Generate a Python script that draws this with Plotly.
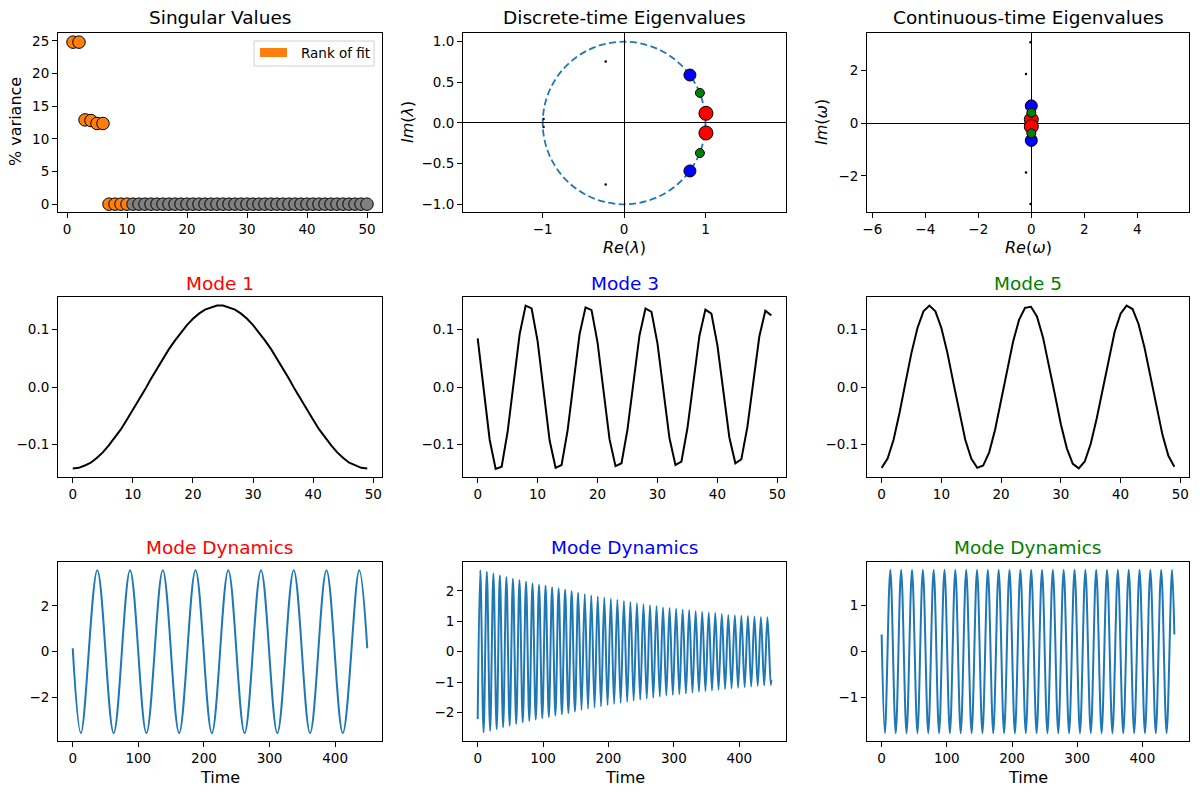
#!/usr/bin/env python3
"""DMD summary plot: singular values, eigenvalues, leading modes and dynamics"""
import plotly.graph_objects as go
from plotly.subplots import make_subplots

W, H = 1200, 798
FONT = "DejaVu Sans"

# ---- singular values, % variance (rank of fit = 10)
sv_index = list(range(1, 51))
sv_percent = [24.8, 24.8, 12.9, 12.8, 12.35, 12.35, 0.0, 0.0, 0.0, 0.0,
              0.0, 0.0, 0.0, 0.0, 0.0, 0.0, 0.0, 0.0, 0.0, 0.0,
              0.0, 0.0, 0.0, 0.0, 0.0, 0.0, 0.0, 0.0, 0.0, 0.0,
              0.0, 0.0, 0.0, 0.0, 0.0, 0.0, 0.0, 0.0, 0.0, 0.0,
              0.0, 0.0, 0.0, 0.0, 0.0, 0.0, 0.0, 0.0, 0.0, 0.0]
fit_rank = 10

# ---- eigenvalues, order: mode 1/2, 3/4, 5/6, then the four small ones
dt_eig_re = [1.006, 1.006, 0.809, 0.809, 0.932, 0.932, -0.226, -0.226, -0.99, -0.99]
dt_eig_im = [0.119, -0.123, 0.59, -0.59, 0.37, -0.37, 0.756, -0.756, 0.05, -0.05]
ct_eig_re = [0.0, 0.0, 0.0, 0.0, 0.0, 0.0, -0.2, -0.2, -0.03, -0.03]
ct_eig_im = [0.13, -0.13, 0.65, -0.66, 0.39, -0.39, 1.86, -1.87, 3.06, -3.07]
eig_colors = ["red", "red", "blue", "blue", "green", "green",
              "black", "black", "black", "black"]
eig_sizes = [14, 14, 12, 12, 9, 9, 2.5, 2.5, 2.5, 2.5]
eig_edges = [1, 1, 1, 1, 1, 1, 0, 0, 0, 0]
unit_radius = 1.0

# ---- spatial modes (50 grid points)
grid = list(range(50))
mode1 = [-0.142, -0.141, -0.137, -0.132, -0.124, -0.114, -0.102, -0.089, -0.074, -0.057,
         -0.040, -0.023, -0.005, 0.014, 0.032, 0.049, 0.066, 0.081, 0.095, 0.108,
         0.119, 0.128, 0.135, 0.139, 0.142, 0.142, 0.139, 0.135, 0.128, 0.119,
         0.108, 0.095, 0.081, 0.066, 0.049, 0.032, 0.014, -0.005, -0.023, -0.040,
         -0.057, -0.074, -0.089, -0.102, -0.114, -0.124, -0.132, -0.137, -0.141, -0.142]
mode3 = [0.085, -0.005, -0.092, -0.143, -0.139, -0.078, 0.010, 0.092, 0.142, 0.137,
         0.080, -0.008, -0.093, -0.141, -0.136, -0.076, 0.010, 0.092, 0.139, 0.134,
         0.078, -0.008, -0.091, -0.138, -0.133, -0.074, 0.010, 0.090, 0.137, 0.131,
         0.076, -0.008, -0.089, -0.136, -0.130, -0.072, 0.010, 0.089, 0.135, 0.128,
         0.073, -0.008, -0.088, -0.133, -0.126, -0.070, 0.010, 0.088, 0.133, 0.125]
mode5 = [-0.141, -0.125, -0.092, -0.045, 0.008, 0.060, 0.103, 0.132, 0.142, 0.132,
         0.103, 0.060, 0.008, -0.045, -0.092, -0.125, -0.141, -0.137, -0.114, -0.074,
         -0.024, 0.029, 0.079, 0.117, 0.138, 0.140, 0.123, 0.087, 0.040, -0.013,
         -0.065, -0.107, -0.134, -0.142, -0.130, -0.099, -0.055, -0.003, 0.050, 0.096,
         0.128, 0.142, 0.136, 0.110, 0.069, 0.019, -0.035, -0.083, -0.120, -0.139]

# ---- mode dynamics, read as start/end values plus each trough and peak
dyn1_start, dyn1_end = (0, 0.15), (449, 0.15)
dyn1_trough_t = [12.5, 62.4, 112.3, 162.2, 212.1, 262.0, 311.9, 361.8, 411.7]
dyn1_trough_v = [-3.56, -3.56, -3.56, -3.56, -3.56, -3.56, -3.56, -3.56, -3.56]
dyn1_peak_t = [37.5, 87.4, 137.3, 187.2, 237.1, 287.0, 336.9, 386.8, 436.7]
dyn1_peak_v = [3.56, 3.56, 3.56, 3.56, 3.56, 3.56, 3.56, 3.56, 3.56]

dyn3_start, dyn3_end = (0, -2.22), (449, -0.92)
dyn3_peak_t = [4.0, 14.0, 24.0, 33.9, 43.9, 53.9, 63.9, 73.9, 83.8, 93.8,
               103.8, 113.8, 123.8, 133.7, 143.7, 153.7, 163.7, 173.7, 183.6, 193.6,
               203.6, 213.6, 223.6, 233.5, 243.5, 253.5, 263.5, 273.5, 283.4, 293.4,
               303.4, 313.4, 323.4, 333.3, 343.3, 353.3, 363.3, 373.3, 383.2, 393.2,
               403.2, 413.2, 423.2, 433.1, 443.1]
dyn3_peak_v = [2.68, 2.63, 2.57, 2.51, 2.46, 2.40, 2.35, 2.30, 2.24, 2.20,
               2.17, 2.12, 2.08, 2.04, 1.99, 1.94, 1.90, 1.86, 1.82, 1.78,
               1.74, 1.71, 1.67, 1.63, 1.59, 1.56, 1.53, 1.50, 1.46, 1.44,
               1.42, 1.39, 1.37, 1.34, 1.31, 1.29, 1.27, 1.24, 1.21, 1.20,
               1.18, 1.17, 1.16, 1.14, 1.13]
dyn3_trough_t = [9.0, 19.0, 29.0, 38.9, 48.9, 58.9, 68.9, 78.9, 88.8, 98.8,
                 108.8, 118.8, 128.8, 138.7, 148.7, 158.7, 168.7, 178.7, 188.6, 198.6,
                 208.6, 218.6, 228.6, 238.5, 248.5, 258.5, 268.5, 278.5, 288.4, 298.4,
                 308.4, 318.4, 328.4, 338.3, 348.3, 358.3, 368.3, 378.3, 388.2, 398.2,
                 408.2, 418.2, 428.2, 438.1, 448.1]
dyn3_trough_v = [-2.65, -2.60, -2.55, -2.49, -2.44, -2.38, -2.33, -2.28, -2.23, -2.19,
                 -2.15, -2.10, -2.06, -2.02, -1.97, -1.92, -1.88, -1.84, -1.80, -1.76,
                 -1.72, -1.69, -1.65, -1.61, -1.58, -1.55, -1.52, -1.48, -1.45, -1.43,
                 -1.40, -1.38, -1.35, -1.32, -1.30, -1.28, -1.25, -1.23, -1.21, -1.19,
                 -1.17, -1.15, -1.13, -1.11, -1.09]

dyn5_start, dyn5_end = (0, 0.37), (449, 0.37)
dyn5_trough_t = [5.0, 21.6, 38.2, 54.9, 71.5, 88.1, 104.7, 121.3, 138.0, 154.6,
                 171.2, 187.8, 204.4, 221.1, 237.7, 254.3, 270.9, 287.5, 304.2, 320.8,
                 337.4, 354.0, 370.6, 387.3, 403.9, 420.5, 437.1]
dyn5_trough_v = [-1.78, -1.78, -1.78, -1.78, -1.78, -1.78, -1.78, -1.78, -1.78, -1.78,
                 -1.78, -1.78, -1.78, -1.78, -1.78, -1.78, -1.78, -1.78, -1.78, -1.78,
                 -1.78, -1.78, -1.78, -1.78, -1.78, -1.78, -1.78]
dyn5_peak_t = [13.3, 29.9, 46.6, 63.2, 79.8, 96.4, 113.0, 129.7, 146.3, 162.9,
               179.5, 196.1, 212.8, 229.4, 246.0, 262.6, 279.2, 295.9, 312.5, 329.1,
               345.7, 362.3, 379.0, 395.6, 412.2, 428.8, 445.4]
dyn5_peak_v = [1.78, 1.78, 1.78, 1.78, 1.78, 1.78, 1.78, 1.78, 1.78, 1.78,
               1.78, 1.78, 1.78, 1.78, 1.78, 1.78, 1.78, 1.78, 1.78, 1.78,
               1.78, 1.78, 1.78, 1.78, 1.78, 1.78, 1.78]


def osc_line(start, end, trough_t, trough_v, peak_t, peak_v):
    """merge start, troughs, peaks and end into one time-ordered line"""
    pts = [start] + list(zip(trough_t, trough_v)) + list(zip(peak_t, peak_v)) + [end]
    pts.sort(key=lambda p: p[0])
    return [p[0] for p in pts], [p[1] for p in pts]


def px2paper(x, y):
    return x / W, 1 - y / H


fig = make_subplots(rows=3, cols=3)

# singular values
sv_colors = ["#ff7f0e" if i <= fit_rank else "gray" for i in sv_index]
fig.add_trace(go.Scatter(x=sv_index, y=sv_percent, mode="markers",
                         marker=dict(size=12.5, color=sv_colors, opacity=1,
                                     line=dict(color="black", width=1)),
                         showlegend=False), row=1, col=1)

# eigenvalues
for col, (re, im) in zip([2, 3], [(dt_eig_re, dt_eig_im), (ct_eig_re, ct_eig_im)]):
    fig.add_trace(go.Scatter(x=re, y=im, mode="markers",
                             marker=dict(size=eig_sizes, color=eig_colors, opacity=1,
                                         line=dict(color="black", width=eig_edges)),
                             showlegend=False), row=1, col=col)

# modes
for col, mode in zip([1, 2, 3], [mode1, mode3, mode5]):
    fig.add_trace(go.Scatter(x=grid, y=mode, mode="lines",
                             line=dict(color="black", width=2), showlegend=False),
                  row=2, col=col)

# dynamics
dyn_lines = [
    osc_line(dyn1_start, dyn1_end, dyn1_trough_t, dyn1_trough_v, dyn1_peak_t, dyn1_peak_v),
    osc_line(dyn3_start, dyn3_end, dyn3_trough_t, dyn3_trough_v, dyn3_peak_t, dyn3_peak_v),
    osc_line(dyn5_start, dyn5_end, dyn5_trough_t, dyn5_trough_v, dyn5_peak_t, dyn5_peak_v),
]
for col, (t, v) in enumerate(dyn_lines, start=1):
    fig.add_trace(go.Scatter(x=t, y=v, mode="lines", line_shape="spline",
                             line=dict(color="#1f77b4", width=2), showlegend=False),
                  row=3, col=col)

# ---- axes
cols_px = [(58, 382), (463, 786), (867, 1189)]
rows_px = [(33, 212), (297, 477), (562, 741)]

base_axis = dict(showgrid=False, zeroline=False, showline=True, linecolor="black",
                 linewidth=1, mirror=True, ticks="outside", ticklen=5, tickwidth=1,
                 tickcolor="black", tickfont=dict(family=FONT, size=13.5, color="black"),
                 automargin=False)

x_setup = [
    dict(range=[-1.5, 52.5], tickvals=[0, 10, 20, 30, 40, 50]),
    dict(range=[-1.98, 1.99], tickvals=[-1, 0, 1], zeroline=True),
    dict(range=[-6.2, 5.95], tickvals=[-6, -4, -2, 0, 2, 4], zeroline=True),
    dict(range=[-2.45, 51.45], tickvals=[0, 10, 20, 30, 40, 50]),
    dict(range=[-2.45, 51.45], tickvals=[0, 10, 20, 30, 40, 50]),
    dict(range=[-2.45, 51.45], tickvals=[0, 10, 20, 30, 40, 50]),
    dict(range=[-22.45, 471.45], tickvals=[0, 100, 200, 300, 400]),
    dict(range=[-22.45, 471.45], tickvals=[0, 100, 200, 300, 400]),
    dict(range=[-22.45, 471.45], tickvals=[0, 100, 200, 300, 400]),
]
y_setup = [
    dict(range=[-1.2, 26.2], tickvals=[0, 5, 10, 15, 20, 25]),
    dict(range=[-1.095, 1.107], tickvals=[-1, -0.5, 0, 0.5, 1], tickformat=".1f", zeroline=True),
    dict(range=[-3.37, 3.41], tickvals=[-2, 0, 2], zeroline=True),
    dict(range=[-0.157, 0.157], tickvals=[-0.1, 0, 0.1], tickformat=".1f"),
    dict(range=[-0.157, 0.157], tickvals=[-0.1, 0, 0.1], tickformat=".1f"),
    dict(range=[-0.157, 0.157], tickvals=[-0.1, 0, 0.1], tickformat=".1f"),
    dict(range=[-3.91, 3.92], tickvals=[-2, 0, 2]),
    dict(range=[-2.94, 2.95], tickvals=[-2, -1, 0, 1, 2]),
    dict(range=[-1.95, 1.95], tickvals=[-1, 0, 1]),
]

layout_axes = {}
for i in range(9):
    r, c = divmod(i, 3)
    x0, x1 = cols_px[c]
    top, bottom = rows_px[r]
    name = "" if i == 0 else str(i + 1)
    xa = dict(base_axis, domain=[x0 / W, x1 / W], **x_setup[i])
    ya = dict(base_axis, domain=[1 - bottom / H, 1 - top / H], **y_setup[i])
    if xa.get("zeroline"):
        xa.update(zerolinecolor="black", zerolinewidth=1.4)
    if ya.get("zeroline"):
        ya.update(zerolinecolor="black", zerolinewidth=1.4)
    layout_axes["xaxis" + name] = xa
    layout_axes["yaxis" + name] = ya
fig.update_layout(**layout_axes)

# ---- titles and axis labels
annotations = []


def add_text(text, x, y, size, color="black", angle=0):
    px, py = px2paper(x, y)
    annotations.append(dict(text=text, x=px, y=py, xref="paper", yref="paper",
                            xanchor="center", yanchor="middle", showarrow=False,
                            textangle=angle, font=dict(family=FONT, size=size, color=color)))


titles = [("Singular Values", "black"), ("Discrete-time Eigenvalues", "black"),
          ("Continuous-time Eigenvalues", "black"),
          ("Mode 1", "red"), ("Mode 3", "blue"), ("Mode 5", "green"),
          ("Mode Dynamics", "red"), ("Mode Dynamics", "blue"), ("Mode Dynamics", "green")]
title_y = [18, 283, 547]
for i, (text, color) in enumerate(titles):
    r, c = divmod(i, 3)
    add_text(text, sum(cols_px[c]) / 2, title_y[r], 18.5, color)

add_text("% variance", 16, 122, 16, angle=-90)
add_text("<i>Im</i>(<i>λ</i>)", 408, 122, 16, angle=-90)
add_text("<i>Im</i>(<i>ω</i>)", 822, 122, 16, angle=-90)
add_text("<i>Re</i>(<i>λ</i>)", sum(cols_px[1]) / 2, 247, 16)
add_text("<i>Re</i>(<i>ω</i>)", sum(cols_px[2]) / 2, 247, 16)
for c in range(3):
    add_text("Time", sum(cols_px[c]) / 2, 777, 16)

# legend "Rank of fit" drawn by hand (patch style handle)
lx0, ly0 = px2paper(254, 41)
lx1, ly1 = px2paper(374, 66)
px0, py0 = px2paper(260, 48)
px1, py1 = px2paper(287, 57)
tx, ty = px2paper(299, 53)
annotations.append(dict(text="Rank of fit", x=tx, y=ty, xref="paper", yref="paper",
                        xanchor="left", yanchor="middle", showarrow=False,
                        font=dict(family=FONT, size=13.5, color="black")))

shapes = [
    dict(type="circle", xref="x2", yref="y2", x0=-unit_radius, y0=-unit_radius,
         x1=unit_radius, y1=unit_radius, layer="below",
         line=dict(color="#1f77b4", width=1.8, dash="7px,3.5px")),
    dict(type="rect", xref="paper", yref="paper", x0=lx0, y0=ly0, x1=lx1, y1=ly1,
         line=dict(color="#d0d0d0", width=1), fillcolor="rgba(255,255,255,0.8)"),
    dict(type="rect", xref="paper", yref="paper", x0=px0, y0=py0, x1=px1, y1=py1,
         line=dict(width=0), fillcolor="#ff7f0e"),
]

fig.update_layout(width=W, height=H, margin=dict(l=0, r=0, t=0, b=0),
                  paper_bgcolor="white", plot_bgcolor="white",
                  font=dict(family=FONT, color="black"),
                  annotations=annotations, shapes=shapes, showlegend=False)

fig.write_html("out.html", config={"displayModeBar": False},
               post_script="document.body.style.margin='0px';")
